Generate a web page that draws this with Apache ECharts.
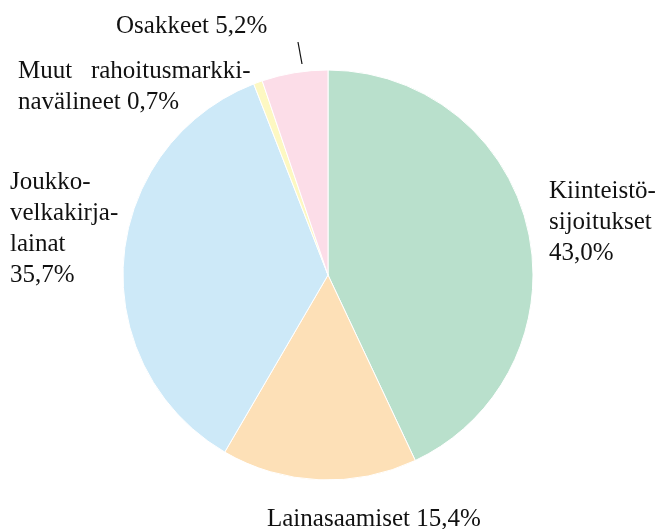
<!DOCTYPE html>
<html>
<head>
<meta charset="utf-8">
<script src="https://cdn.jsdelivr.net/npm/echarts@6/dist/echarts.min.js"></script>
<style>
html, body { margin: 0; padding: 0; background: #fff; }
#chart { width: 667px; height: 529px; }
</style>
</head>
<body>
<div id="chart"></div>
<script>
// osuudet prosentteina, myötäpäivään klo 12:sta
const names = ["Kiinteistösijoitukset", "Lainasaamiset", "Joukkovelkakirjalainat", "Muut rahoitusmarkkinavälineet", "Osakkeet"];
const values = [43.0, 15.4, 35.7, 0.7, 5.2];
const labelTexts = [
  "Kiinteistö-\nsijoitukset\n43,0%",
  "Lainasaamiset 15,4%",
  "Joukko-\nvelkakirja-\nlainat\n35,7%",
  "Muut   rahoitusmarkki-\nnavälineet 0,7%",
  "Osakkeet 5,2%"
];
const colors = ["#b9e0cc", "#fde0b7", "#cde9f8", "#fdf8c2", "#fcdde8"];

// label placement (top-left corner of each text block)
const labelPos = [
  [549, 176],
  [267, 504],
  [10, 167],
  [18, 56],
  [116, 11]
];

const chart = echarts.init(document.getElementById("chart"));
const option = {
  animation: false,
  series: [{
    type: "pie",
    center: [328, 275],
    radius: [0, 205],
    startAngle: 90,
    clockwise: true,
    itemStyle: { borderColor: "#fff", borderWidth: 1 },
    label: {
      show: true,
      position: "outside",
      color: "#111",
      fontFamily: "'Liberation Serif', 'DejaVu Serif', serif",
      fontSize: 25,
      lineHeight: 31,
      overflow: "none",
      formatter: p => labelTexts[p.dataIndex]
    },
    labelLine: { show: false },
    labelLayout: function (p) {
      const pos = labelPos[p.dataIndex];
      return { x: pos[0], y: pos[1], align: "left", verticalAlign: "top" };
    },
    data: names.map((n, i) => ({
      name: n,
      value: values[i],
      itemStyle: { color: colors[i] }
    }))
  }],
  graphic: [{
    type: "line",
    shape: { x1: 298, y1: 42, x2: 302, y2: 64 },
    style: { stroke: "#111", lineWidth: 1.2 }
  }]
};
chart.setOption(option);
</script>
</body>
</html>
